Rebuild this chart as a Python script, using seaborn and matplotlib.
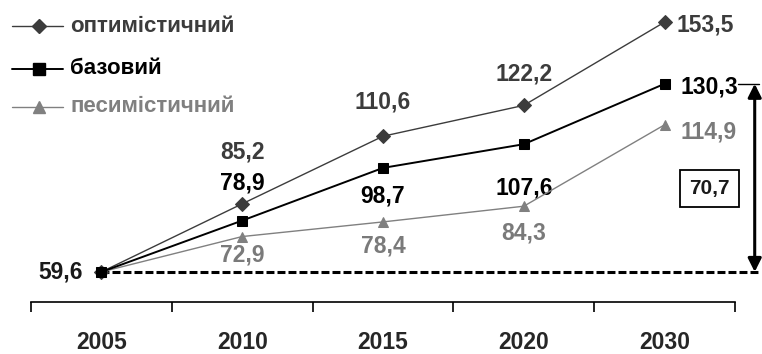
import matplotlib
matplotlib.use("Agg")
import matplotlib.pyplot as plt
import seaborn as sns
import pandas as pd
from matplotlib.lines import Line2D

years = ["2005", "2010", "2015", "2020", "2030"]
optimistic = [59.6, 85.2, 110.6, 122.2, 153.5]
base = [59.6, 78.9, 98.7, 107.6, 130.3]
pessimistic = [59.6, 72.9, 78.4, 84.3, 114.9]
names = ["оптимістичний", "базовий", "песимістичний"]

sns.set_style("white")
plt.rcParams["font.family"] = ["Liberation Sans", "DejaVu Sans"]
plt.rcParams["font.weight"] = "bold"

W, H = 762, 354
fig = plt.figure(figsize=(W / 100, H / 100), dpi=100)
ax = fig.add_axes([31 / W, (H - 302) / H, 704 / W, 302 / H])

pos = list(range(len(years)))
series = [
    (optimistic, "D", "#3c3c3c", 1.0, 7.0, "#3c3c3c", 3),
    (base, "s", "#000000", 1.4, 7.5, "#000000", 5),
    (pessimistic, "^", "#808080", 1.0, 7.5, "#7a7a7a", 4),
]
for vals, mk, col, lw, ms, tcol, zo in series:
    df = pd.DataFrame({"x": pos, "y": vals})
    sns.lineplot(data=df, x="x", y="y", ax=ax, color=col, lw=lw, marker=mk,
                 markersize=ms, markeredgecolor=col, markerfacecolor=col, zorder=zo)

# baseline dashed from 2005 value
ax.plot([0, 4.67], [base[0], base[0]], color="black", lw=2.2,
        dashes=(2.6, 1.0), clip_on=False, zorder=1)

ax.set_xlim(-0.5, 4.5)
ax.set_ylim(48.3, 161.8)
ax.set_xlabel("")
ax.set_ylabel("")
ax.set_yticks([])
ax.set_xticks(pos)
ax.set_xticklabels(years, fontsize=16.5, fontweight="bold")
ax.set_xticks([-0.5, 0.5, 1.5, 2.5, 3.5, 4.5], minor=True)
ax.tick_params(axis="x", which="major", length=0, pad=21)
ax.tick_params(axis="x", which="minor", length=7, width=1.2, direction="out",
               color="black", bottom=True)
for s in ["top", "left", "right"]:
    ax.spines[s].set_visible(False)
ax.spines["bottom"].set_color("black")
ax.spines["bottom"].set_linewidth(1.2)

PT = 0.72  # px -> points
def lab(x, y, txt, dx, dy, col, ha="center", fs=16.5):
    ax.annotate(txt, (x, y), xytext=(dx * PT, dy * PT), textcoords="offset points",
                ha=ha, va="center", fontsize=fs, fontweight="bold", color=col,
                annotation_clip=False)

fmt = lambda v: f"{v:.1f}".replace(".", ",")
lab(0, base[0], fmt(base[0]), -19, 0, "#1a1a1a", ha="right")
# optimistic labels
lab(1, optimistic[1], fmt(optimistic[1]), 0, 52, "#3c3c3c")
lab(2, optimistic[2], fmt(optimistic[2]), 0, 34, "#3c3c3c")
lab(3, optimistic[3], fmt(optimistic[3]), 0, 31, "#3c3c3c")
lab(4, optimistic[4], fmt(optimistic[4]), 12, -3, "#3c3c3c", ha="left")
# base labels
lab(1, base[1], fmt(base[1]), 0, 38, "#000000")
lab(2, base[2], fmt(base[2]), 0, -28, "#000000")
lab(3, base[3], fmt(base[3]), 0, -44, "#000000")
lab(4, base[4], fmt(base[4]), 16, -3, "#000000", ha="left")
# pessimistic labels
lab(1, pessimistic[1], fmt(pessimistic[1]), 0, -18, "#7a7a7a")
lab(2, pessimistic[2], fmt(pessimistic[2]), 0, -24, "#7a7a7a")
lab(3, pessimistic[3], fmt(pessimistic[3]), 0, -27, "#7a7a7a")
lab(4, pessimistic[4], fmt(pessimistic[4]), 16, -7, "#7a7a7a", ha="left")

# difference arrow
xa = 4.64
ax.annotate("", xy=(xa, base[0]), xytext=(xa, base[4]),
            arrowprops=dict(arrowstyle="<|-|>", color="black", lw=2.2,
                            mutation_scale=20, shrinkA=0, shrinkB=0),
            annotation_clip=False)
ax.plot([4.52, xa + 0.03], [base[4], base[4]], color="black", lw=1.0, clip_on=False)
diff = base[4] - base[0]
ax.text(4.32, 91.0, fmt(diff), ha="center", va="center", fontsize=15,
        fontweight="bold", color="#1a1a1a",
        bbox=dict(boxstyle="square,pad=0.45", fc="white", ec="black", lw=1.3))

# legend (manual)
leg_rows = [26, 69, 107]
for (vals, mk, col, lw, ms, tcol, zo), name, yy in zip(series, names, leg_rows):
    yf = 1 - yy / H
    fig.add_artist(Line2D([12 / W, 63 / W], [yf, yf], color=col, lw=lw,
                          transform=fig.transFigure))
    fig.add_artist(Line2D([39 / W], [yf], color=col, marker=mk, markersize=ms + 0.5,
                          markeredgecolor=col, markerfacecolor=col, lw=0,
                          transform=fig.transFigure))
    fig.text(70 / W, yf, name, ha="left", va="center", fontsize=16,
             fontweight="bold", color=tcol if tcol != "#7a7a7a" else "#808080")

fig.savefig("out.png", dpi=100)
